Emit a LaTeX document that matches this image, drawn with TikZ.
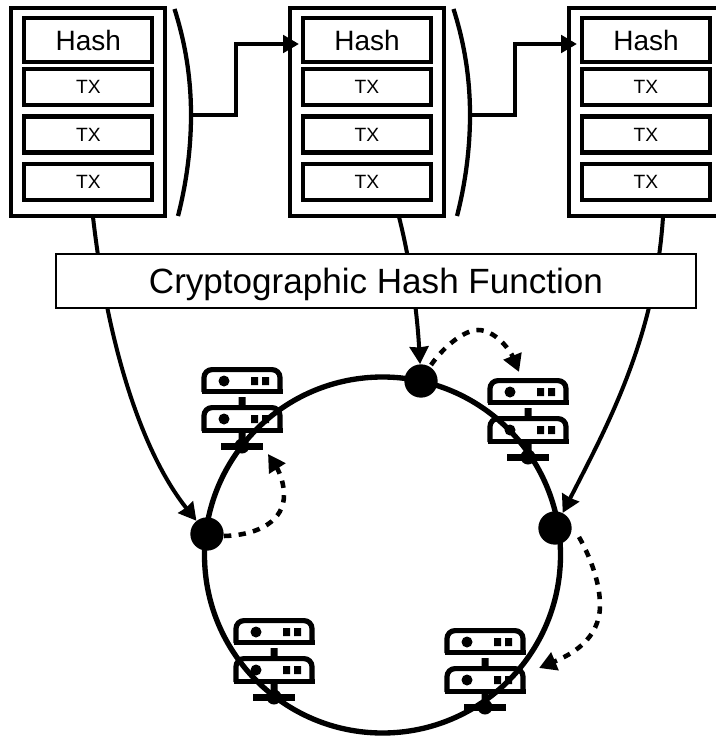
\documentclass[tikz,border=0pt]{standalone}
\usepackage{fontspec}
\setmainfont{Liberation Sans}
\usetikzlibrary{arrows.meta}

\tikzset{
    blockbox/.style={shape=rectangle, draw=black, line width=3.2pt, minimum width=115.5pt, minimum height=156pt, inner sep=0pt},
    hashbox/.style={shape=rectangle, draw=black, line width=3.2pt, minimum width=96pt, minimum height=33pt, inner sep=0pt, font=\fontsize{21}{24}\selectfont},
    txbox/.style={shape=rectangle, draw=black, line width=3.2pt, minimum width=96pt, minimum height=27pt, inner sep=0pt, font=\fontsize{14.4}{17}\selectfont},
    funcbox/.style={shape=rectangle, draw=black, fill=white, line width=2.2pt, minimum width=480pt, minimum height=40.5pt, inner sep=0pt, text depth=0pt, font=\fontsize{26.3}{30}\selectfont},
    ring/.style={shape=circle, draw=black, line width=4pt, minimum width=267pt, inner sep=0pt},
    ringdot/.style={shape=circle, fill=black, minimum width=25pt, inner sep=0pt},
    flow/.style={line width=3pt, -{Stealth[length=13pt, width=14pt, inset=0.5pt]}},
    jump/.style={line width=3.4pt, dash pattern=on 5.5pt off 5.5pt, -{Stealth[length=13pt, width=14pt, inset=0pt]}},
    link/.style={line width=3.4pt, -{Stealth[length=12pt, width=13pt, inset=0pt]}},
    server/.pic={
        \draw[line width=3.9pt, rounded corners=6pt] (-38,-54) -- (-38,-76.4) -- (38,-76.4) -- (38,-54);
        \draw[line width=3.9pt] (-40.5,-54.6) -- (40.5,-54.6);
        \draw[line width=3.9pt, rounded corners=6pt] (-38,-15) -- (-38,-38.4) -- (38,-38.4) -- (38,-15);
        \draw[line width=3.9pt] (-40.5,-15.6) -- (40.5,-15.6);
        \fill (-18,-65) circle (5.5) (-18,-27) circle (5.5);
        \fill (9,-69) rectangle (16,-61) (20,-69) rectangle (27,-61);
        \fill (9,-31) rectangle (16,-23) (20,-31) rectangle (27,-23);
        \fill (-3.5,-49) rectangle (3.5,-40) (-3.5,-14) rectangle (3.5,0);
        \fill (-21,-3.5) rectangle (21,3.5);
        \fill (0,0) circle (7.5);
    },
}

\begin{document}
\begin{tikzpicture}[x=0.75pt, y=-0.75pt]
    \useasboundingbox (0,0) rectangle (716,738);

    % blocks
    \node[blockbox] (B1) at (88.3,112) {};
    \node[hashbox] (H1) at (88.3,40.3) {Hash};
    \node[txbox] (T11) at (88.3,87.3) {TX};
    \node[txbox] (T12) at (88.3,134.5) {TX};
    \node[txbox] (T13) at (88.3,182) {TX};

    \node[blockbox] (B2) at (367,112) {};
    \node[hashbox] (H2) at (367,40.3) {Hash};
    \node[txbox] (T21) at (367,87.3) {TX};
    \node[txbox] (T22) at (367,134.5) {TX};
    \node[txbox] (T23) at (367,182) {TX};

    \node[blockbox] (B3) at (646,112) {};
    \node[hashbox] (H3) at (646,40.3) {Hash};
    \node[txbox] (T31) at (646,87.3) {TX};
    \node[txbox] (T32) at (646,134.5) {TX};
    \node[txbox] (T33) at (646,182) {TX};

    % ring
    \pic at (242,446) {server};
    \pic at (528,457) {server};
    \pic at (274,697) {server};
    \pic at (485,707) {server};
    \node[ring] (R) at (382.5,555) {};
    \node[ringdot] (D1) at (207,534) {};
    \node[ringdot] (D2) at (421,381) {};
    \node[ringdot] (D3) at (555,528) {};

    % hash outputs
    \coordinate (O1) at (93,217);
    \coordinate (O2) at (399,217);
    \coordinate (O3) at (663,217);
    \draw[flow] (O1) .. controls (107,340) and (140,450) .. (D1);
    \draw[flow] (O2) .. controls (410,260) and (417,310) .. (D2);
    \draw[flow] (O3) .. controls (655,340) and (605,430) .. (D3);
    \node[funcbox] (F) at (376,281) {Cryptographic Hash Function};

    % brackets
    \coordinate (A1) at (191,115);
    \coordinate (A2) at (470,115);
    \coordinate (E2) at (299,44);
    \coordinate (E3) at (577,44);
    \draw[line width=3.2pt] (174.5,9) .. controls (186,45) and (191,80) .. (A1) .. controls (191,150) and (186,185) .. (178,216);
    \draw[line width=3.2pt] (453.5,9) .. controls (465,45) and (470,80) .. (A2) .. controls (470,150) and (465,185) .. (457,216);
    \draw[link] (A1) -- ++(45,0) |- (E2);
    \draw[link] (A2) -- ++(45,0) |- (E3);

    % dashed jumps
    \coordinate (P1) at (224,536);
    \coordinate (P2) at (431,365);
    \coordinate (P3) at (579,537);
    \coordinate (S1) at (268,454);
    \coordinate (S2) at (519,372);
    \coordinate (S3) at (539,668);
    \draw[jump] (P1) .. controls (260,535) and (284,520) .. (284,495) .. controls (284,480) and (277,468) .. (S1);
    \draw[jump] (P2) .. controls (445,345) and (465,330) .. (478,330) .. controls (495,330) and (510,350) .. (S2);
    \draw[jump] (P3) .. controls (592,560) and (600,585) .. (600,605) .. controls (600,640) and (570,655) .. (S3);
\end{tikzpicture}
\end{document}
